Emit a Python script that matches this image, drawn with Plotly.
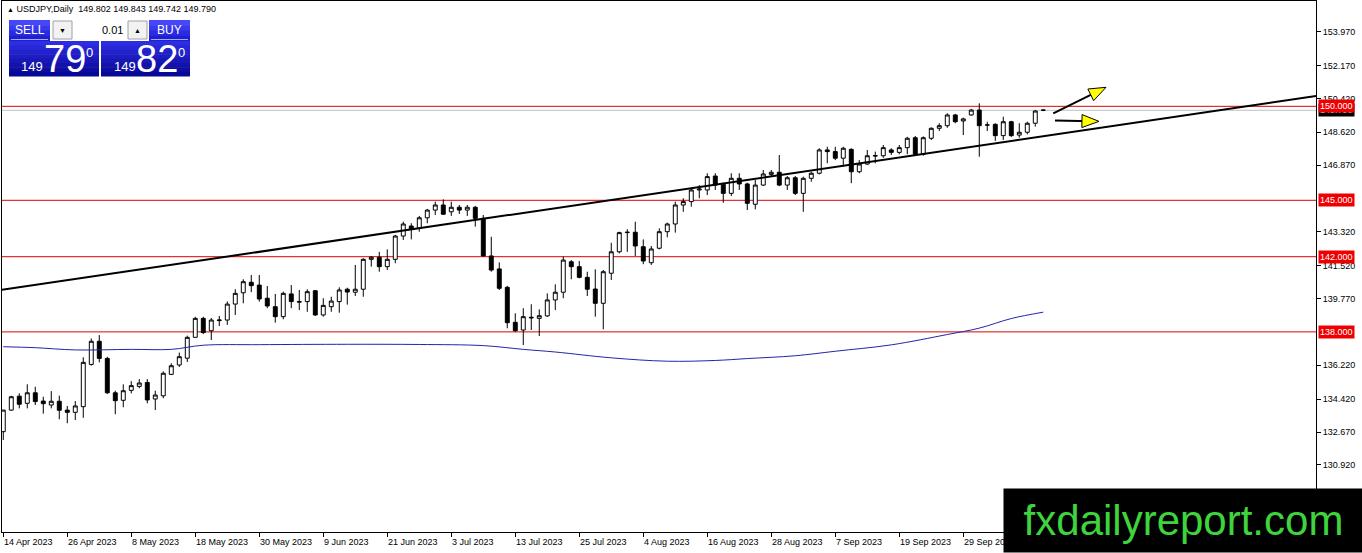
import numpy as np
import plotly.graph_objects as go

# daily USDJPY bars, 14 Apr 2023 -> 13 Oct 2023 (weekdays)
open_ = [132.69, 133.84, 134.58, 134.20, 134.76, 134.32, 134.11, 134.31, 133.84, 133.72,
         134.02, 136.27, 137.50, 136.59, 134.76, 134.36, 134.89, 135.10, 135.31, 134.43,
         134.60, 135.74, 136.24, 136.60, 137.71, 138.72, 138.06, 138.60, 138.63, 139.48,
         140.08, 140.64, 140.49, 139.79, 139.34, 138.81, 140.02, 139.58, 139.61, 140.19,
         138.90, 139.34, 139.61, 140.27, 140.11, 140.27, 141.86, 141.97, 141.47, 141.86,
         143.10, 143.63, 143.51, 144.07, 144.48, 144.75, 144.39, 144.63, 144.48, 144.63,
         144.04, 142.04, 141.35, 140.37, 138.51, 138.10, 138.78, 138.72, 138.85, 139.70,
         140.11, 141.73, 141.47, 140.90, 140.28, 139.52, 141.12, 142.26, 143.28, 143.30,
         142.53, 141.68, 142.45, 143.33, 143.74, 144.75, 144.93, 145.55, 145.55, 146.29,
         145.86, 145.37, 146.17, 145.87, 144.79, 145.81, 146.38, 146.49, 145.81, 146.20,
         145.37, 146.17, 146.44, 147.68, 147.59, 147.24, 147.71, 146.52, 146.93, 147.35,
         147.37, 147.68, 147.55, 147.80, 148.33, 147.45, 148.30, 148.83, 148.97, 149.54,
         149.22, 149.54, 149.80, 149.00, 149.04, 148.44, 149.18, 148.47, 148.62, 149.10,
         149.802]
high = [133.85, 134.60, 134.73, 135.21, 135.08, 134.55, 134.85, 134.61, 134.06, 134.32,
        136.65, 137.65, 137.83, 136.67, 134.87, 135.21, 135.38, 135.49, 135.49, 134.87,
        135.90, 136.33, 136.90, 137.80, 138.80, 138.80, 138.74, 138.85, 139.62, 140.27,
        140.80, 141.03, 141.03, 140.44, 140.02, 140.14, 140.49, 140.23, 140.27, 140.23,
        139.79, 139.87, 140.37, 140.35, 141.56, 141.92, 142.04, 142.26, 142.39, 143.16,
        143.86, 143.78, 144.17, 144.54, 144.93, 145.05, 144.93, 144.75, 144.75, 144.70,
        144.22, 143.06, 141.70, 140.45, 138.99, 139.26, 139.47, 139.20, 140.05, 140.53,
        142.00, 141.82, 141.77, 141.20, 141.33, 141.29, 142.74, 143.33, 143.46, 143.86,
        142.92, 142.57, 143.51, 143.81, 144.93, 145.11, 145.64, 145.81, 146.44, 146.44,
        145.94, 146.44, 146.44, 145.94, 146.08, 146.61, 146.61, 147.41, 146.29, 146.29,
        146.26, 146.52, 147.77, 147.85, 147.85, 147.85, 147.77, 147.14, 147.68, 147.59,
        147.94, 147.77, 147.94, 148.38, 148.42, 148.40, 148.88, 149.10, 149.63, 149.60,
        149.40, 149.86, 150.16, 149.18, 149.10, 149.45, 149.23, 149.10, 149.18, 149.80,
        149.843]
low = [132.25, 133.80, 133.93, 133.93, 134.11, 133.65, 133.93, 133.35, 133.14, 133.31,
       133.43, 136.20, 136.38, 134.70, 133.62, 133.99, 134.73, 135.00, 134.20, 133.84,
       134.47, 135.70, 136.13, 136.40, 137.70, 137.89, 137.57, 138.31, 138.37, 138.90,
       139.52, 140.11, 139.61, 139.26, 138.49, 138.67, 139.26, 139.16, 139.07, 138.85,
       138.81, 139.07, 139.02, 139.45, 139.91, 139.87, 141.47, 141.20, 141.29, 141.65,
       142.89, 142.92, 143.33, 143.78, 144.22, 144.22, 144.17, 144.27, 144.17, 143.60,
       142.00, 141.20, 140.23, 138.19, 138.01, 137.30, 138.10, 137.78, 138.80, 139.16,
       139.79, 140.80, 140.85, 139.91, 138.81, 138.14, 140.76, 142.18, 142.26, 142.04,
       141.60, 141.56, 142.39, 143.03, 143.28, 144.39, 144.66, 145.11, 145.28, 145.55,
       144.87, 145.23, 145.55, 144.48, 144.52, 145.76, 146.29, 145.75, 145.55, 145.28,
       144.39, 145.99, 146.38, 146.97, 147.14, 146.79, 145.91, 146.44, 146.88, 146.97,
       147.26, 147.41, 147.45, 147.45, 147.37, 147.37, 148.21, 148.69, 148.86, 149.10,
       148.47, 149.50, 147.32, 148.69, 148.16, 148.21, 148.37, 148.33, 148.51, 148.92,
       149.742]
close = [133.84, 134.55, 134.15, 134.76, 134.29, 134.18, 134.31, 133.83, 133.72, 134.06,
         136.38, 137.50, 136.59, 134.76, 134.34, 134.87, 135.14, 135.28, 134.38, 134.64,
         135.80, 136.20, 136.68, 137.71, 138.72, 137.96, 138.63, 138.63, 139.48, 140.05,
         140.67, 140.46, 139.75, 139.38, 138.81, 140.05, 139.61, 139.61, 140.14, 138.90,
         139.41, 139.64, 140.23, 140.12, 140.27, 141.86, 141.97, 141.47, 141.86, 143.10,
         143.74, 143.46, 144.07, 144.48, 144.75, 144.26, 144.63, 144.48, 144.63, 144.04,
         142.04, 141.29, 140.32, 138.49, 138.06, 138.81, 138.75, 138.86, 139.70, 140.11,
         141.82, 141.47, 140.90, 140.27, 139.52, 141.20, 142.26, 143.28, 143.30, 142.57,
         141.77, 142.41, 143.33, 143.74, 144.75, 144.93, 145.55, 145.60, 146.26, 145.81,
         145.37, 146.17, 145.87, 144.84, 145.81, 146.40, 146.49, 145.81, 146.20, 145.37,
         146.17, 146.44, 147.68, 147.59, 147.24, 147.77, 146.52, 146.93, 147.37, 147.38,
         147.80, 147.55, 147.80, 148.30, 147.45, 148.33, 148.83, 148.97, 149.54, 149.18,
         149.33, 149.80, 148.97, 149.01, 148.44, 149.18, 148.44, 148.62, 149.10, 149.75,
         149.790]

# date labels, one every 8 bars
date_labels = ["14 Apr 2023", "26 Apr 2023", "8 May 2023", "18 May 2023", "30 May 2023",
               "9 Jun 2023", "21 Jun 2023", "3 Jul 2023", "13 Jul 2023", "25 Jul 2023",
               "4 Aug 2023", "16 Aug 2023", "28 Aug 2023", "7 Sep 2023", "19 Sep 2023",
               "29 Sep 2023"]
label_step = 8

# scale values (145.120 and 137.970 sit under the level tags, so they are left out)
price_ticks = [153.970, 152.170, 150.420, 148.620, 146.870, 143.320,
               141.520, 139.770, 136.220, 134.420, 132.670, 130.920]

levels = [150.0, 145.0, 142.0, 138.0]
bid = 149.790

# moving average, sampled along the blue line (bar index, price)
ma_idx = [0, 4, 9, 16, 21, 25, 32, 43, 52, 60, 65, 69, 76, 83, 89, 93, 99, 104, 111, 118, 122, 126, 130]
ma_val = [137.21, 137.16, 137.04, 137.07, 137.07, 137.29, 137.32, 137.34, 137.33, 137.27, 137.07,
          136.93, 136.62, 136.44, 136.48, 136.58, 136.73, 136.97, 137.31, 137.86, 138.20, 138.71, 139.05]

# trend line anchors (bar index, price), drawn as a ray to the right
trend_idx = [0, 130]
trend_val = [140.25, 148.41]

# yellow arrows (tail, tip) in (bar index, price)
arrows = [((131.25, 149.63), (137.84, 151.01)),
          ((131.46, 149.24), (136.96, 149.20))]

W, H = 1362, 553
L_PX, R_PX, T_PX, B_PX = 2, 1316, 1, 532
X_RANGE = [-0.16, 164.09]
Y_RANGE = [127.354, 155.603]
FONT = "Liberation Sans, Arial, sans-serif"


def px(x):
    return (x - L_PX) / (R_PX - L_PX)


def py(y):
    return (B_PX - y) / (B_PX - T_PX)


x = np.arange(len(open_))

fig = go.Figure()
fig.add_trace(go.Candlestick(
    x=x, open=open_, high=high, low=low, close=close,
    increasing=dict(line=dict(color="black", width=1), fillcolor="white"),
    decreasing=dict(line=dict(color="black", width=1), fillcolor="black"),
    whiskerwidth=0, showlegend=False, hoverinfo="skip"))

fig.add_trace(go.Scatter(x=ma_idx, y=ma_val, mode="lines", line=dict(color="#2424a8", width=1, shape="spline"),
                         showlegend=False, hoverinfo="skip"))

slope = (trend_val[1] - trend_val[0]) / (trend_idx[1] - trend_idx[0])
tx = [trend_idx[0] + X_RANGE[0], X_RANGE[1]]
ty = [trend_val[0] + slope * X_RANGE[0], trend_val[0] + slope * (X_RANGE[1] - trend_idx[0])]
fig.add_trace(go.Scatter(x=tx, y=ty, mode="lines", line=dict(color="black", width=2),
                         showlegend=False, hoverinfo="skip"))

shapes = []
for lv in levels:
    shapes.append(dict(type="line", xref="paper", x0=0, x1=1, yref="y", y0=lv, y1=lv,
                       line=dict(color="#e00000", width=1), layer="below"))
shapes.append(dict(type="line", xref="paper", x0=0, x1=1, yref="y", y0=bid, y1=bid,
                   line=dict(color="#c0c0c0", width=1), layer="below"))

# arrows: shaft + outlined yellow head, head built in pixel space
sx = (R_PX - L_PX) / (X_RANGE[1] - X_RANGE[0])
sy = (B_PX - T_PX) / (Y_RANGE[1] - Y_RANGE[0])
for tail, tip in arrows:
    dx = (tip[0] - tail[0]) * sx
    dy = (tip[1] - tail[1]) * sy
    n = np.hypot(dx, dy)
    ux, uy = dx / n, dy / n
    hl, hw = 17, 6.5
    pts = [(0, 0), (-ux * hl - uy * hw, -uy * hl + ux * hw), (-ux * hl + uy * hw, -uy * hl - ux * hw)]
    pts = [(tip[0] + a / sx, tip[1] + b / sy) for a, b in pts]
    shapes.append(dict(type="line", xref="x", yref="y", x0=tail[0], y0=tail[1],
                       x1=tip[0] - ux * 8 / sx, y1=tip[1] - uy * 8 / sy,
                       line=dict(color="black", width=2)))
    path = "M {},{} L {},{} L {},{} Z".format(*[v for p in pts for v in p])
    shapes.append(dict(type="path", xref="x", yref="y", path=path,
                       fillcolor="#ffff00", line=dict(color="black", width=1)))


def box(x0, y0, x1, y1, color, line=None):
    shapes.append(dict(type="rect", xref="paper", yref="paper", x0=px(x0), x1=px(x1),
                       y0=py(y1), y1=py(y0), fillcolor=color,
                       line=dict(width=1 if line else 0, color=line or color), layer="above"))


def gradient(x0, y0, x1, y1, c_top, c_bot, n=8):
    c_top, c_bot = np.array(c_top), np.array(c_bot)
    edges = np.linspace(y0, y1, n + 1)
    for k in range(n):
        c = c_top + (c_bot - c_top) * k / (n - 1)
        box(x0, edges[k], x1, edges[k + 1] + 0.5, "rgb({:.0f},{:.0f},{:.0f})".format(*c))


# one-click trading panel
gradient(9, 20, 50, 41, (70, 70, 250), (30, 30, 210), 4)
gradient(149, 20, 190, 41, (70, 70, 250), (30, 30, 210), 4)
box(50, 20, 149, 41, "white")
box(53, 21, 72, 39, "#f2f2f2", "#a0a0a0")
box(128, 21, 147, 39, "#f2f2f2", "#a0a0a0")
gradient(9, 41, 99, 76, (45, 45, 225), (8, 8, 150))
gradient(101, 41, 190, 76, (45, 45, 225), (8, 8, 150))
shapes.append(dict(type="line", xref="paper", yref="paper", x0=px(11), x1=px(48), y0=py(39.5), y1=py(39.5),
                   line=dict(color="#a8a8ff", width=1)))
shapes.append(dict(type="line", xref="paper", yref="paper", x0=px(151), x1=px(188), y0=py(39.5), y1=py(39.5),
                   line=dict(color="#a8a8ff", width=1)))

ann = []


def text(t, x0, y0, size, color="white", anchor="center"):
    ann.append(dict(text=t, xref="paper", yref="paper", x=px(x0), y=py(y0), xanchor=anchor,
                    yanchor="middle", showarrow=False, font=dict(family=FONT, size=size, color=color)))


text("<span style='font-size:7px'>▲</span> USDJPY,Daily  149.802 149.843 149.742 149.790", 5, 9, 9, "black", "left")
text("SELL", 29.5, 30, 12)
text("BUY", 169.5, 30, 12)
text("0.01", 125, 30, 11, "black", "right")
text("▼", 62.5, 30, 7, "black")
text("▲", 137.5, 30, 7, "black")
text("149", 32, 67, 13)
text("79", 65, 59, 38)
text("0", 89, 52, 13)
text("149", 125, 67, 13)
text("82", 157, 59, 38)
text("0", 181, 52, 13)

# date labels to the right of each tick
for k, lab in enumerate(date_labels):
    ann.append(dict(text=lab, xref="x", yref="paper", x=k * label_step, y=0, xanchor="left", yanchor="top",
                    xshift=-1, yshift=-3, showarrow=False, font=dict(family=FONT, size=9, color="black")))

# price tags on the right scale
ann.append(dict(text="149.790", xref="paper", yref="y", x=1, y=bid, xanchor="left", yanchor="middle",
                xshift=2, showarrow=False, bgcolor="black", borderpad=1,
                font=dict(family=FONT, size=9, color="white")))
for lv in levels:
    ann.append(dict(text="{:.3f}".format(lv), xref="paper", yref="y", x=1, y=lv, xanchor="left",
                    yanchor="middle", xshift=2, showarrow=False, bgcolor="#ee0000", borderpad=1,
                    font=dict(family=FONT, size=9, color="white")))

# watermark box
ann.append(dict(text="fxdailyreport.com", xref="paper", yref="paper", x=px(1003), y=py(553),
                xanchor="left", yanchor="bottom", width=359, height=63, bgcolor="black", borderpad=0,
                align="center", valign="middle", showarrow=False,
                font=dict(family=FONT, size=42, color="#3ed43e")))

fig.update_layout(
    width=W, height=H,
    margin=dict(l=L_PX, r=W - R_PX, t=T_PX, b=H - B_PX, autoexpand=False),
    paper_bgcolor="white", plot_bgcolor="white",
    shapes=shapes, annotations=ann,
    font=dict(family=FONT, size=9, color="black"),
    xaxis=dict(range=X_RANGE, rangeslider=dict(visible=False), showgrid=False, zeroline=False,
               tickvals=[k * label_step for k in range(len(date_labels) + 1)], ticks="outside", ticklen=4,
               tickcolor="black", showticklabels=False, showline=True, linecolor="black", mirror=True),
    yaxis=dict(range=Y_RANGE, side="right", showgrid=False, zeroline=False, tickvals=price_ticks,
               tickformat=".3f", ticks="outside", ticklen=4, tickcolor="black",
               tickfont=dict(family=FONT, size=9, color="black"),
               showline=True, linecolor="black", mirror=True),
    hovermode=False,
)

# drop the page's default body margin so the chart sits at the window's corner
fig.write_html("out.html", config={"displayModeBar": False},
               post_script="document.body.style.margin='0';document.body.style.padding='0';")
